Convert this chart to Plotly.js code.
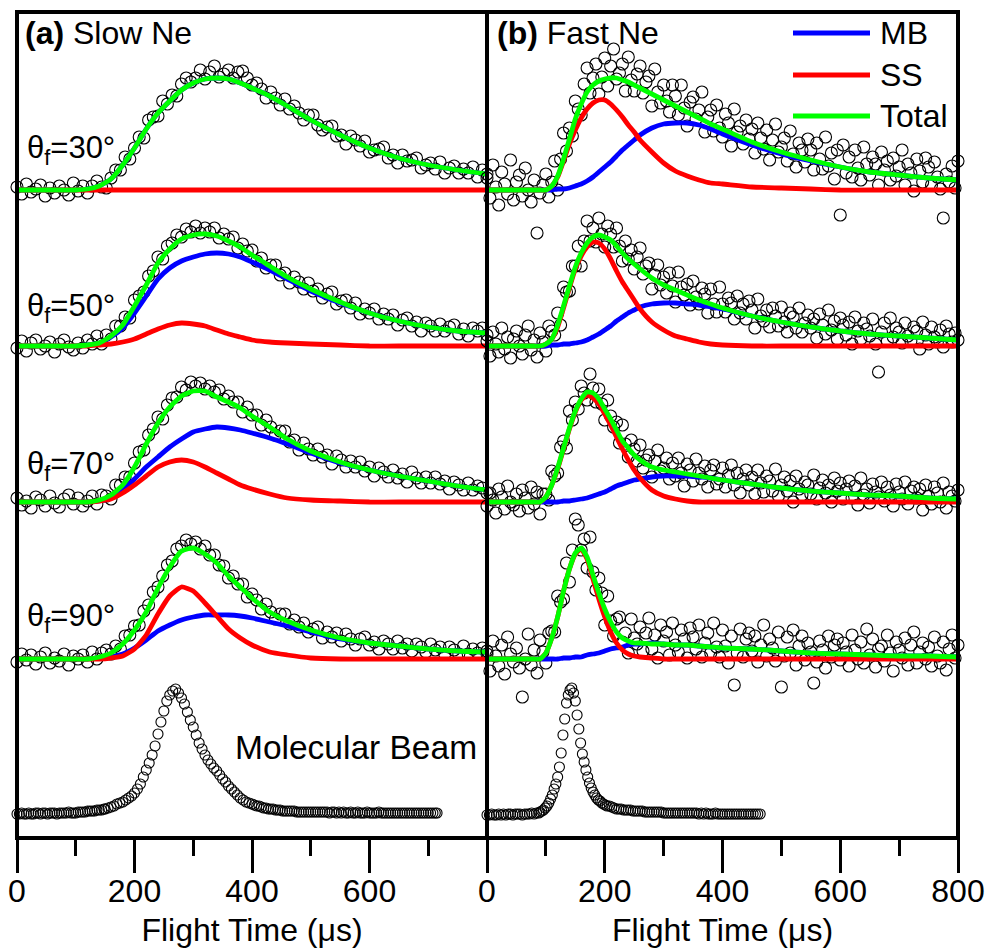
<!DOCTYPE html>
<html><head><meta charset="utf-8">
<script src="https://cdn.plot.ly/plotly-3.0.1.min.js"></script>
<style>html,body{margin:0;padding:0;background:#fff}#chart{width:988px;height:950px}</style>
</head><body><div id="chart"></div>
<script>
// ---------- time bases (µs) ----------
const tSlow = [0,8,16,24,32,40,48,56,64,72,80,88,96,104,112,120,128,136,144,152,160,168,176,184,192,200,208,216,224,232,240,248,256,264,272,280,288,296,304,312,320,328,336,344,352,360,368,376,384,392,400,408,416,424,432,440,448,456,464,472,480,488,496,504,512,520,528,536,544,552,560,568,576,584,592,600,608,616,624,632,640,648,656,664,672,680,688,696,704,712,720,728,736,744,752,760,768,776,784,792,800];
const tFast = [0,5,10,15,20,25,30,35,40,45,50,55,60,65,70,75,80,85,90,95,
100,105,110,115,120,125,130,135,140,145,150,155,160,165,170,175,180,185,190,195,
200,205,210,215,220,225,230,235,240,245,250,255,260,265,270,275,280,285,290,295,
300,305,310,315,320,325,330,335,340,345,350,355,360,365,370,375,380,385,390,395,
400,405,410,415,420,425,430,435,440,445,450,455,460,465,470,475,480,485,490,495,
500,505,510,515,520,525,530,535,540,545,550,555,560,565,570,575,580,585,590,595,
600,605,610,615,620,625,630,635,640,645,650,655,660,665,670,675,680,685,690,695,
700,705,710,715,720,725,730,735,740,745,750,755,760,765,770,775,780,785,790,795,800];

// ---------- measured TOF data (a.u.) : Slow Ne ----------
const slow30 = [3,-4,6,-2,1,5,-6,2,-3,4, 0,-5,7,-1,4,-3,4,9,3,2, 12,20,20,33,31,42,53,52,70,73, 74,89,86,95,94,106,112,108,112,120, 111,118,124,113,116,120,112,118,119,112, 105,107,101,92,98,92,85,91,81,84, 77,70,75,75,65,60,63,64,54,55, 46,54,50,44,49,38,40,41,43,32, 35,27,35,29,30,32,22,25,27,21, 28,17,22,24,17,21,17,23,13,20, 16];
const slow50 = [-2,5,-5,3,6,-3,0,4,-6,2, 6,-1,-4,3,-2,6,2,10,2,11, 7,20,20,29,28,46,50,54,70,75, 89,87,100,103,111,109,117,114,120,113, 118,114,118,108,112,107,109,98,102,95, 96,85,88,78,81,81,71,73,63,69, 64,57,63,55,57,48,52,54,42,45, 46,38,43,32,37,33,37,27,32,27, 31,21,26,28,20,24,15,23,20,15, 22,15,19,21,12,17,10,18,15,18, 11];
const slow70 = [4,-3,1,-6,5,2,-4,6,-1,-5, 3,7,-2,4,-4,1,6,-2,7,6, 3,17,17,25,25,39,50,52,67,73, 85,83,97,104,105,115,112,120,116,119, 113,116,110,112,103,106,100,100,90,95, 87,87,77,82,75,67,71,71,60,62, 52,59,53,47,53,45,47,38,46,42, 35,41,35,40,31,35,26,34,30,25, 32,24,28,20,30,24,19,25,19,25, 18,21,13,20,17,12,19,12,16,14, 9];
const slow90 = [-3,5,-1,4,-5,2,6,-4,1,-2, 5,-6,3,0,4,-3,7,0,6,9, 5,13,10,23,24,33,34,48,54,67, 72,83,94,98,110,113,119,115,117,110, 113,104,104,94,93,81,83,75,75,62, 65,59,50,55,47,40,45,45,35,39, 32,36,27,30,32,21,27,22,26,18, 25,20,14,20,22,14,17,10,18,15, 10,18,11,15,8,15,12,7,15,9, 12,5,12,9,5,13,5,10,6,11, 5];

// ---------- measured TOF data (a.u.) : Fast Ne ----------
const fast30 = [12,-8,25,3,-15,18,6,-4,30,-10, 8,15,-6,22,0,-12,10,-43,-3,5, 16,-7,8,29,0,31,57,39,62,54, 89,81,75,106,122,97,112,126,96,113, 132,104,124,141,111,117,126,99,133,110, 99,116,124,97,108,114,84,121,98,87, 105,89,78,105,94,75,105,82,64,88, 93,71,80,98,58,73,80,59,85,62, 53,76,67,44,81,58,64,46,70,51, 61,37,67,52,41,60,30,50,66,38, 43,52,29,59,36,23,47,40,28,51, 40,20,47,31,21,53,24,37,11,40, -25,45,17,33,13,40,22,10,43,26, 15,33,26,5,38,20,29,10,32,14, 23,40,5,26,17,-1,31,19,8,32, 23,5,28,13,1,-28,16,8,24,2, 29];
const fast50 = [5,-10,14,2,-6,18,-3,9,-12,7, 15,0,-8,11,20,-4,6,-11,13,4, -5,20,15,11,33,21,59,54,55,80, 80,100,80,105,125,105,118,104,128,112, 99,120,112,99,118,100,85,105,87,96, 77,89,98,72,80,83,57,71,81,61, 69,53,73,60,44,74,59,51,62,41, 65,49,42,58,52,33,57,42,34,59, 42,34,48,43,27,50,33,42,27,45, 36,18,47,30,25,36,19,38,30,20, 39,24,14,33,29,18,38,14,23,31, 18,27,8,32,21,12,36,16,25,7, 28,21,11,24,2,29,15,7,23,17, 10,27,2,-26,14,23,5,28,9,18, 14,3,23,10,5,19,15,-3,24,11, 2,19,9,4,16,-1,20,12,4,13, 6];
const fast70 = [-4,9,2,-11,13,5,-7,16,0,-3, 8,-9,12,4,-6,15,-2,10,-12,8, 8,2,31,26,29,55,61,54,91,82, 100,93,116,109,102,128,114,100,113,98, 82,102,86,75,80,59,77,58,45,62, 53,41,57,34,42,47,25,41,52,31, 34,44,23,39,26,44,29,16,38,32, 21,43,29,23,36,15,32,37,18,23, 34,15,27,37,17,29,9,23,32,17, 25,8,32,19,10,26,21,11,33,6, 17,25,11,21,0,26,13,7,20,17, 8,27,3,14,22,9,17,0,24,11, 19,3,13,21,4,16,-3,24,7,13, -1,18,10,5,20,1,15,7,-4,18, 10,3,20,-2,11,15,4,13,-8,17, 6,-2,15,9,0,19,-6,10,6,1, 12];
const fast90 = [8,-12,18,3,-7,14,-15,22,5,-3, 11,-9,-38,0,25,-6,9,-14,19,7, -4,26,28,27,63,57,60,96,77,109, 140,134,109,120,91,122,87,69,81,66, 34,63,38,23,40,42,17,26,6,40, 21,15,32,8,26,41,10,24,1,34, 18,27,4,36,14,7,29,20,1,31, 22,10,34,2,16,26,6,36,12,2, 29,13,-4,23,-26,6,30,2,20,26, 8,23,-3,14,34,3,20,11,-2,27, -28,3,22,6,29,-6,13,23,-1,16, 7,-24,-3,18,9,-9,23,2,14,20, -1,16,7,-7,24,9,0,17,-4,30, 4,20,-8,10,13,-2,24,6,-12,17, 9,1,21,-6,14,27,-4,7,16,0, 12,-7,22,3,-4,17,-11,10,24,1, 14];

// ---------- molecular beam profiles ----------
const slowBeamT = [0,4,8,12,16,20,24,28,32,36,40,44,48,52,56,60,64,68,72,76,80,84,88,92,96,100,
104,108,112,116,120,124,128,132,136,140,144,148,150,
155,160,165,170,175,180,185,190,195,200,205,210,215,220,225,230,235,240,245,250,255,260,265,270,275,280,285,290,295,300,305,310,315,320,325,330,335,340,345,350,355,360,365,370,375,380,385,390,395,400,
404,408,412,416,420,424,428,432,436,440,444,448,452,456,460,464,468,472,476,480,
484,488,492,496,500,504,508,512,516,520,524,528,532,536,540,544,548,552,556,560,
564,568,572,576,580,584,588,592,596,600,604,608,612,616,620,624,628,632,636,640,
644,648,652,656,660,664,668,672,676,680,684,688,692,696,700,704,708,712,715];
const slowBeam = [0,0,1,0,0,1,0,0,1,1,0,1,1,0,1,1,1,0,1,1,1,1,2,1,1,1,
2,2,2,2,3,3,3,3,4,4,4,5,5,
6,7,8,10,11,12,14,16,18,21,25,30,37,44,51,59,68,80,92,103,113,119,123,125,121,116,110,102,94,87,79,71,65,59,54,50,46,43,39,35,32,28,25,22,19,16,14,12,11,10,
9,8,8,7,6,6,5,5,5,4,4,4,3,3,3,3,3,3,2,2,
2,2,2,2,2,2,2,2,2,2,2,2,1,2,2,1,2,1,2,1,
1,2,1,1,2,1,1,1,2,1,1,1,1,2,1,1,1,1,1,1,
1,1,1,1,1,1,1,1,1,1,1,1,1,1,1,1,1,1,1];
const fastBeamT = [0,4,8,12,16,20,24,28,32,36,40,44,48,52,56,60,64,68,72,76,80,84,88,
90,93,96,99,102,105,108,111,114,117,120,123,126,129,132,135,138,141,144,147,150,153,156,159,162,165,168,171,174,177,180,183,186,189,192,195,198,201,
204,208,212,216,220,224,228,232,236,240,244,248,252,256,260,264,268,272,276,280,
284,288,292,296,300,304,308,312,316,320,324,328,332,336,340,344,348,352,356,360,
364,368,372,376,380,384,388,392,396,400,404,408,412,416,420,424,428,432,436,440,
444,448,452,456,460,464];
const fastBeam = [0,0,1,0,0,1,0,1,0,1,1,0,1,1,1,0,1,1,1,2,1,2,2,
3,4,5,7,9,12,16,20,26,31,38,48,62,80,96,112,120,125,127,122,114,100,86,72,61,53,45,38,32,27,23,20,17,15,14,12,11,10,
9,9,8,7,6,6,6,5,5,5,5,4,4,4,4,4,3,3,3,3,
3,3,3,3,2,2,2,2,2,2,2,2,2,2,2,2,2,2,2,1,
2,1,2,1,1,1,2,1,1,1,1,1,1,1,1,1,1,1,1,1,
1,1,1,1,1,1];

// ---------- fits (MB, SS, Total) ----------
const fitSlowT = [0,50,100,120,140,160,180,200,220,240,260,280,300,320,340,360,380,400,430,460,500,550,600,650,700,750,800];
const slow30MB  = [0,0,0,1,4,11,25,42,61,77,89,100,107,111,112,111,107,102,94,84,70,55,42,32,25,20,16];
const slow30SS  = [0,0,0,0,0,0,0,0,0,0,0,0,0,0,0,0,0,0,0,0,0,0,0,0,0,0,0];
const slow30Tot = [0,0,0,1,4,11,25,42,61,77,89,100,107,111,112,111,107,102,94,84,70,55,42,32,25,20,16];
const slow50MB  = [0,0,0,1,3,9,18,33,50,67,78,85,89,92,93,92,89,84,76,67,55,43,33,25,19,15,13];
const slow50SS  = [0,0,0,0,1,2,4,7,12,17,21,23,22,20,16,12,9,6,4,3,2,1,0,0,0,0,0];
const slow50Tot = [0,0,0,1,3,10,21,40,61,83,97,107,111,112,110,105,99,91,80,69,57,44,33,25,19,15,13];
const slow70MB  = [0,0,0,0,1,4,12,23,35,45,55,63,70,73,75,74,72,69,64,58,49,39,32,26,21,16,12];
const slow70SS  = [0,0,0,0,1,3,9,17,26,35,40,42,40,35,29,23,17,13,8,4,2,1,0,0,0,0,0];
const slow70Tot = [0,0,0,0,2,7,17,35,58,79,95,106,111,111,105,100,94,86,75,63,51,40,32,26,21,16,12];
const slow90MB  = [0,0,0,0,1,2,5,11,19,28,34,39,42,44,44,44,43,41,37,33,27,20,16,13,10,8,7];
const slow90SS  = [0,0,0,0,0,1,3,10,24,45,63,72,68,56,43,30,21,14,7,4,1,0,0,0,0,0,0];
const slow90Tot = [0,0,0,0,2,6,15,29,47,71,92,108,111,105,96,83,72,61,47,38,29,21,16,13,10,8,7];

const fitFastT = [0,50,80,90,100,110,120,130,140,150,160,170,180,190,200,210,220,230,240,250,260,280,300,320,340,360,380,400,450,500,550,600,650,700,750,800];
const fast30MB  = [0,0,0,0,0,0,1,1,2,4,6,9,13,18,23,28,34,40,45,50,55,62,66,67,67,65,61,56,45,36,29,23,18,15,12,10];
const fast30SS  = [0,0,0,0,0,4,13,29,46,60,72,81,87,90,90,86,80,73,65,58,50,38,27,19,14,10,7,6,3,2,1,0,0,0,0,0];
const fast30Tot = [0,0,0,0,0,4,14,31,51,71,86,98,105,109,111,112,112,110,108,105,102,96,90,84,78,72,66,61,48,38,30,23,18,15,12,10];
const fast50MB  = [0,0,0,0,0,1,1,2,2,3,4,6,9,12,16,20,25,29,33,36,39,42,43,43,42,41,39,37,30,24,19,15,12,10,8,6];
const fast50SS  = [0,0,0,0,2,7,19,38,58,77,90,99,104,103,97,87,75,64,55,46,37,24,16,10,7,4,2,1,0,0,0,0,0,0,0,0];
const fast50Tot = [0,0,0,0,2,7,21,40,60,79,93,103,109,111,109,106,100,93,87,82,77,68,61,56,51,46,42,38,30,24,19,15,12,10,8,6];
const fast70MB  = [0,0,0,0,0,0,0,1,1,2,3,4,6,8,10,13,16,18,20,22,23,25,26,26,26,25,24,22,18,14,11,9,7,6,4,3];
const fast70SS  = [0,0,0,0,5,17,33,53,73,90,102,107,104,98,88,77,65,53,42,32,24,12,6,3,1,0,0,0,0,0,0,0,0,0,0,0];
const fast70Tot = [0,0,0,0,5,17,34,54,74,91,103,110,109,103,93,83,72,61,54,47,42,35,32,30,28,26,24,22,18,14,11,9,7,6,4,3];
const fast90MB  = [0,0,0,0,0,0,0,1,1,2,2,4,5,6,8,10,11,12,14,15,15,16,15,14,14,13,12,11,10,8,6,5,4,3,3,2];
const fast90SS  = [0,0,0,0,6,21,42,68,90,105,110,100,80,60,42,27,16,9,5,3,2,1,0,0,0,0,0,0,0,0,0,0,0,0,0,0];
const fast90Tot = [0,0,0,0,6,21,42,68,90,106,111,102,84,66,50,37,27,21,18,16,16,15,15,14,14,13,12,11,10,8,6,5,4,3,3,2];

// ---------- labels ----------
const angleLabels = ['θ<sub>f</sub>=30°','θ<sub>f</sub>=50°','θ<sub>f</sub>=70°','θ<sub>f</sub>=90°'];
const panelLabels = ['<b>(a)</b> Slow Ne','<b>(b)</b> Fast Ne'];
const legendNames = ['MB','SS','Total'];
const xTicksA = [0,200,400,600];
const xTicksB = [0,200,400,600,800];
const xMinor = [100,300,500,700];
const axisTitle = 'Flight Time (μs)';

// ---------- styling / layout constants ----------
const FONT = 'Liberation Sans, Arial, sans-serif';
const COLORS = {MB:'#0000FF', SS:'#FF0000', Total:'#00FF00'};
const OFFS = [625, 469, 313, 156];  // vertical stacking of the four angles
const L = 17, R = 958, T = 12, B = 838;
const SPLIT = (487 - L) / (R - L);
const px = v => (v - L) / (R - L);
const py = v => (B - v) / (B - T);

const traces = [];
function dataTrace(x, y, off, xa, size) {
  return {type:'scatter', mode:'markers', x:x, y:y.map(v => v + off), xaxis:xa, yaxis:'y',
    marker:{symbol:'circle-open', size:size, color:'#000', line:{width:1.1}},
    cliponaxis:false, hoverinfo:'skip', showlegend:false};
}
function fitTrace(x, y, off, xa, color) {
  return {type:'scatter', mode:'lines', x:x, y:y.map(v => v + off), xaxis:xa, yaxis:'y',
    line:{color:color, width:4.8, shape:'spline', smoothing:0.5}, hoverinfo:'skip', showlegend:false};
}

const slowData = [slow30, slow50, slow70, slow90];
const fastData = [fast30, fast50, fast70, fast90];
const slowFits = [[slow30MB,slow30SS,slow30Tot],[slow50MB,slow50SS,slow50Tot],[slow70MB,slow70SS,slow70Tot],[slow90MB,slow90SS,slow90Tot]];
const fastFits = [[fast30MB,fast30SS,fast30Tot],[fast50MB,fast50SS,fast50Tot],[fast70MB,fast70SS,fast70Tot],[fast90MB,fast90SS,fast90Tot]];

for (let i = 0; i < 4; i++) {
  traces.push(dataTrace(tSlow, slowData[i], OFFS[i], 'x', 12));
  traces.push(dataTrace(tFast, fastData[i], OFFS[i], 'x2', 12));
}
traces.push(dataTrace(slowBeamT, slowBeam, 1, 'x', 10));
traces.push(dataTrace(fastBeamT, fastBeam, 0, 'x2', 10));
for (let k = 0; k < 3; k++) {
  const c = COLORS[legendNames[k]];
  for (let i = 0; i < 4; i++) {
    traces.push(fitTrace(fitSlowT, slowFits[i][k], OFFS[i], 'x', c));
    traces.push(fitTrace(fitFastT, fastFits[i][k], OFFS[i], 'x2', c));
  }
}

function xAxis(domain, ticks) {
  return {domain:domain, range:[0,800], anchor:'y', showgrid:false, zeroline:false, showline:false,
    ticks:'outside', ticklen:34, tickwidth:3, tickcolor:'#000', tickmode:'array', tickvals:ticks,
    ticktext:ticks.map(String), tickfont:{size:32, family:FONT, color:'#000'}, ticklabelstandoff:-9,
    minor:{tickmode:'array', tickvals:xMinor, ticks:'outside', ticklen:17, tickwidth:3, tickcolor:'#000', showgrid:false},
    title:{text:axisTitle, font:{size:32, family:FONT, color:'#000'}, standoff:10},
    automargin:false, fixedrange:true};
}

const shapes = [
  {type:'rect', xref:'paper', yref:'paper', x0:0, x1:1, y0:0, y1:1, line:{color:'#000', width:4}},
  {type:'line', xref:'paper', yref:'paper', x0:SPLIT, x1:SPLIT, y0:0, y1:1, line:{color:'#000', width:4}}
];
const legY = [33, 75, 116];
const annotations = [];
legendNames.forEach((n, k) => {
  shapes.push({type:'line', xref:'paper', yref:'paper', x0:px(793), x1:px(870), y0:py(legY[k]), y1:py(legY[k]),
    line:{color:COLORS[n], width:5}});
  annotations.push({text:n, xref:'paper', yref:'paper', x:px(878), y:py(legY[k]), xanchor:'left', yanchor:'middle',
    showarrow:false, font:{size:32, family:FONT, color:'#000'}});
});
annotations.push({text:panelLabels[0], xref:'paper', yref:'paper', x:px(23), y:py(33), xanchor:'left', yanchor:'middle', showarrow:false, font:{size:32, family:FONT, color:'#000'}});
annotations.push({text:panelLabels[1], xref:'paper', yref:'paper', x:px(495), y:py(33), xanchor:'left', yanchor:'middle', showarrow:false, font:{size:32, family:FONT, color:'#000'}});
const angY = [150, 308, 466, 618];
angleLabels.forEach((s, i) => {
  annotations.push({text:s, xref:'paper', yref:'paper', x:px(25), y:py(angY[i]), xanchor:'left', yanchor:'middle', showarrow:false, font:{size:31, family:FONT, color:'#000'}});
});
annotations.push({text:'Molecular Beam', xref:'paper', yref:'paper', x:px(479), y:py(747), xanchor:'right', yanchor:'middle', showarrow:false, font:{size:33.5, family:FONT, color:'#000'}});

const layout = {
  width:988, height:950, margin:{l:L, r:988-R, t:T, b:950-B},
  paper_bgcolor:'#fff', plot_bgcolor:'#fff', showlegend:false,
  font:{family:FONT, color:'#000', size:32},
  xaxis:xAxis([0, SPLIT], xTicksA),
  xaxis2:xAxis([SPLIT, 1], xTicksB),
  yaxis:{range:[-23, 803], visible:false, showgrid:false, zeroline:false, fixedrange:true},
  shapes:shapes, annotations:annotations
};
Plotly.newPlot('chart', traces, layout, {staticPlot:true, displayModeBar:false});
</script>
</body></html>
